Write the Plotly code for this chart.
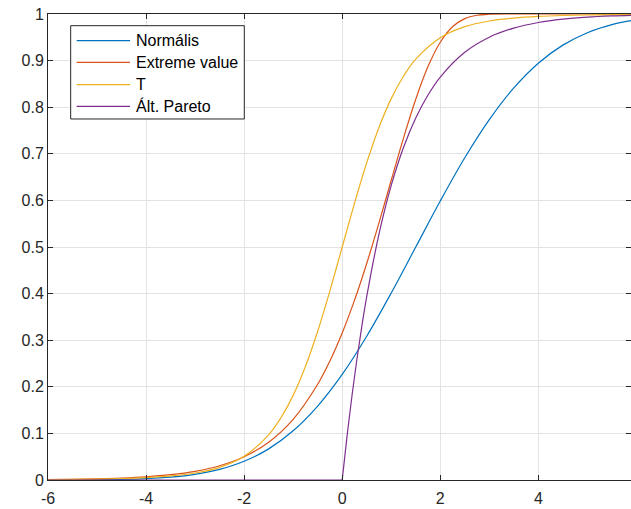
import plotly.graph_objects as go

# ---- data ----
x_norm = [-6, -5.5, -5, -4.5, -4, -3.5, -3, -2.5, -2, -1.5, -1, -0.5, 0, 0.5, 1, 1.5, 2,
          2.5, 3, 3.5, 4, 4.5, 5, 5.5, 6]
y_norm = [0.0001, 0.0002, 0.0006, 0.0013, 0.0030, 0.0062, 0.0122, 0.0228, 0.0401, 0.0668,
          0.1056, 0.1587, 0.2266, 0.3085, 0.4013, 0.5000, 0.5987, 0.6915, 0.7734, 0.8413,
          0.8944, 0.9332, 0.9599, 0.9772, 0.9878]

x_ev = [-6, -5.5, -5, -4.5, -4, -3.5, -3, -2.5, -2, -1.5, -1, -0.5, -0.25, 0, 0.25, 0.5,
        0.75, 1, 1.25, 1.5, 1.75, 2, 2.25, 2.5, 2.75, 3, 3.5, 4, 5, 6]
y_ev = [0.0009, 0.0015, 0.0026, 0.0042, 0.0069, 0.0114, 0.0187, 0.0306, 0.0500, 0.0811,
        0.1302, 0.2054, 0.2556, 0.3155, 0.3854, 0.4647, 0.5518, 0.6432, 0.7337, 0.8171,
        0.8871, 0.9393, 0.9726, 0.9901, 0.9973, 0.9995, 1.0, 1.0, 1.0, 1.0]

x_t = [-6, -5.5, -5, -4.5, -4, -3.5, -3, -2.5, -2, -1.5, -1.25, -1, -0.75, -0.5, -0.25, 0,
       0.25, 0.5, 0.75, 1, 1.25, 1.5, 2, 2.5, 3, 3.5, 4, 4.5, 5, 5.5, 6]
y_t = [0.0009, 0.0014, 0.0021, 0.0032, 0.0052, 0.0087, 0.0150, 0.0272, 0.0510, 0.0970,
       0.1335, 0.1816, 0.2434, 0.3191, 0.4063, 0.5000, 0.5937, 0.6809, 0.7566, 0.8184,
       0.8665, 0.9030, 0.9490, 0.9728, 0.9850, 0.9913, 0.9948, 0.9968, 0.9979, 0.9986,
       0.9991]

x_gp_flat = [-6, 0]
y_gp_flat = [0, 0]
x_gp = [0, 0.1, 0.2, 0.3, 0.4, 0.5, 0.75, 1, 1.25, 1.5, 1.75, 2, 2.5, 3, 3.5, 4, 4.5, 5,
        5.5, 6]
y_gp = [0, 0.0952, 0.1813, 0.2592, 0.3297, 0.3935, 0.5276, 0.6321, 0.7135, 0.7769, 0.8262,
        0.8647, 0.9179, 0.9502, 0.9698, 0.9817, 0.9889, 0.9933, 0.9959, 0.9975]

names = ["Normális", "Extreme value", "T", "Ált. Pareto"]
colors = ["#0072BD", "#D95319", "#EDB120", "#7E2F8E"]

x_ticks = [-6, -4, -2, 0, 2, 4]
y_ticks = [0, 0.1, 0.2, 0.3, 0.4, 0.5, 0.6, 0.7, 0.8, 0.9, 1]
y_ticktext = ["0", "0.1", "0.2", "0.3", "0.4", "0.5", "0.6", "0.7", "0.8", "0.9", "1"]

FONT = "Arial, Liberation Sans, sans-serif"
LW = 1.2
fig = go.Figure()
fig.add_trace(go.Scatter(x=x_norm, y=y_norm, mode="lines", name=names[0], showlegend=False,
                         line=dict(color=colors[0], width=LW, shape="spline")))
fig.add_trace(go.Scatter(x=x_ev, y=y_ev, mode="lines", name=names[1], showlegend=False,
                         line=dict(color=colors[1], width=LW, shape="spline")))
fig.add_trace(go.Scatter(x=x_t, y=y_t, mode="lines", name=names[2], showlegend=False,
                         line=dict(color=colors[2], width=LW, shape="spline")))
fig.add_trace(go.Scatter(x=x_gp, y=y_gp, mode="lines", name=names[3], showlegend=False,
                         line=dict(color=colors[3], width=LW, shape="spline")))
fig.add_trace(go.Scatter(x=x_gp_flat, y=y_gp_flat, mode="lines", name=names[3],
                         showlegend=False, line=dict(color=colors[3], width=LW)))

# ---- MATLAB-style legend box (drawn in paper coordinates) ----
leg_x0, leg_x1, leg_y0, leg_y1 = 0.0389, 0.3367, 0.7747, 0.9749
row_y = [0.9427, 0.8963, 0.8483, 0.8019]
line_x0, line_x1, text_x = 0.0492, 0.1407, 0.1475

shapes = [dict(type="rect", xref="paper", yref="paper", x0=leg_x0, x1=leg_x1,
               y0=leg_y0, y1=leg_y1, line=dict(color="#262626", width=1),
               fillcolor="white", layer="above")]
annotations = []
for nm, col, ry in zip(names, colors, row_y):
    shapes.append(dict(type="line", xref="paper", yref="paper", x0=line_x0, x1=line_x1,
                       y0=ry, y1=ry, line=dict(color=col, width=LW), layer="above"))
    annotations.append(dict(xref="paper", yref="paper", x=text_x, y=ry, text=nm,
                            showarrow=False, xanchor="left", yanchor="middle",
                            font=dict(family=FONT, size=16, color="#000000")))

axis_common = dict(
    showline=True, linecolor="#262626", linewidth=1, mirror="allticks",
    ticks="inside", ticklen=5, tickcolor="#262626", tickwidth=1,
    showgrid=True, gridcolor="#e3e3e3", gridwidth=1, zeroline=False,
    tickfont=dict(family=FONT, size=16, color="#262626"),
)

fig.update_layout(
    width=631, height=509,
    margin=dict(l=48, r=0, t=14, b=29),
    paper_bgcolor="white", plot_bgcolor="white",
    font=dict(family=FONT, size=16, color="#262626"),
    xaxis=dict(range=[-6, 5.89], tickvals=x_ticks, ticktext=[str(v) for v in x_ticks],
               ticklabelstandoff=4, **axis_common),
    yaxis=dict(range=[0, 1], tickvals=y_ticks, ticktext=y_ticktext, **axis_common),
    shapes=shapes, annotations=annotations,
    showlegend=False,
)

fig.write_html("out.html")
